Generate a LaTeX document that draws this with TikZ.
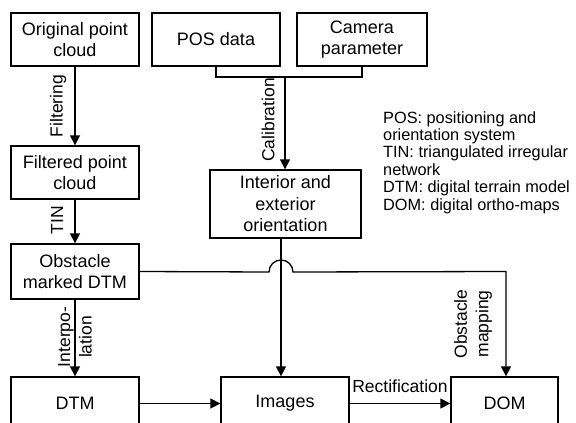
\documentclass[tikz,border=0pt]{standalone}
\usepackage{fontspec}
\setmainfont{Liberation Sans}
\usetikzlibrary{arrows.meta}
\begin{document}
\begin{tikzpicture}[x=1pt,y=-1pt,
  box/.style={draw,line width=1.3pt,inner sep=0pt,align=center,
    font=\fontsize{18}{21.5}\selectfont},
  lbl/.style={inner sep=0pt,align=center,font=\fontsize{17.5}{21.5}\selectfont},
  conn/.style={line width=1.3pt},
  arr/.style={conn,-{Triangle[length=10pt,width=10pt]}}]
\useasboundingbox (0,0) rectangle (576,423);
\fill[white] (0,0) rectangle (576,423);
\node[box,minimum width=128pt,minimum height=53pt] (orig) at (75,39.5) {Original point\\cloud};
\node[box,minimum width=128pt,minimum height=53pt] (pos) at (216,39.5) {POS data};
\node[box,minimum width=130pt,minimum height=53pt] (cam) at (362,39.5) {Camera\\parameter};
\node[box,minimum width=128pt,minimum height=53pt] (filt) at (75,172.5) {Filtered point\\cloud};
\node[box,minimum width=151pt,minimum height=68pt] (inter) at (285.5,204) {Interior and\\exterior\\orientation};
\node[box,minimum width=128pt,minimum height=55pt] (obst) at (75,271.5) {Obstacle\\marked DTM};
\node[box,minimum width=128pt,minimum height=53pt] (dtm) at (75,403.5) {DTM};
\node[box,minimum width=128pt,minimum height=53pt] (img) at (285,403.5) {Images};
\node[box,minimum width=107pt,minimum height=53pt] (dom) at (504.5,403.5) {DOM};
\node[inner sep=0pt,anchor=north west,align=left,
  font=\fontsize{16.3}{17.4}\selectfont] (legend) at (383,111)
  {POS: positioning and\\orientation system\\TIN: triangulated irregular\\network\\DTM: digital terrain model\\DOM: digital ortho-maps};
% connectors
\draw[arr] (orig) -- (filt);
\draw[arr] (filt) -- (obst);
\draw[arr] (obst) -- (dtm);
\coordinate (jn) at (285,77);
\draw[conn] (pos.south) |- (jn) -| (cam.south);
\draw[arr] (jn) -- (jn |- inter.north);
\coordinate (vx) at (281,0);
\draw[arr] (vx |- inter.south) -- (vx |- img.north);
\coordinate (dx) at (506,0);
\draw[arr] (obst.east) -- (269,272) arc[start angle=180,end angle=0,radius=12pt] -- (dx |- obst.east) -- (dx |- dom.north);
\draw[arr] (dtm) -- (img);
\draw[arr] (img) -- (dom);
% labels
\node[lbl,rotate=90] (lf) at (58,106) {Filtering};
\node[lbl,rotate=90] (lc) at (268,120) {Calibration};
\node[lbl,rotate=90] (lt) at (57,220) {TIN};
\node[lbl,rotate=90] (li) at (75,337) {Interpo-\\lation};
\node[lbl,rotate=90] (lo) at (473,324) {Obstacle\\mapping};
\node[lbl] (lr) at (400,386) {Rectification};
\end{tikzpicture}
\end{document}
